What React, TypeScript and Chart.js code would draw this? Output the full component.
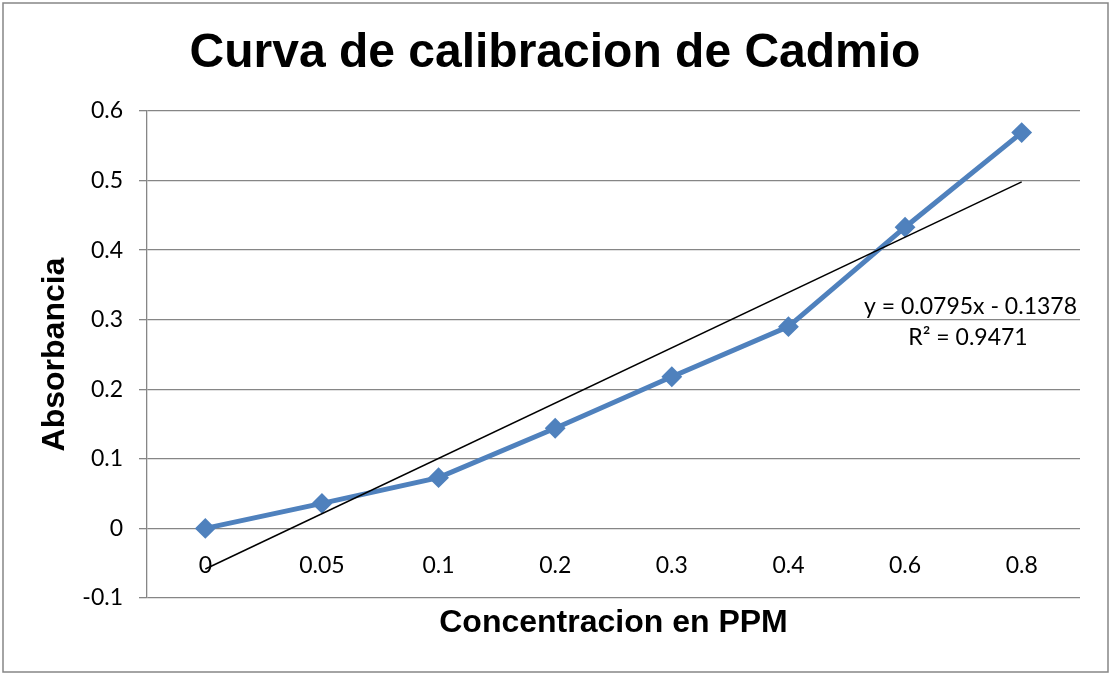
import React, { useEffect, useRef } from "react";
import { Chart, registerables } from "chart.js";

Chart.register(...registerables);

const categories = ["0", "0.05", "0.1", "0.2", "0.3", "0.4", "0.6", "0.8"];
const absorbance = [0, 0.036, 0.073, 0.144, 0.218, 0.290, 0.433, 0.569];
const trendline = [-0.0583, null, null, null, null, null, null, 0.4982];
const yTicks = [-0.1, 0, 0.1, 0.2, 0.3, 0.4, 0.5, 0.6];
const equationText = "y = 0.0795x - 0.1378";
const r2Text = "R² = 0.9471";
const xTitle = "Concentracion en PPM";

const LABEL_FONT = "Lato, 'Open Sans', sans-serif";
const TITLE_FONT = "'Liberation Sans', Arial, sans-serif";

const frameAndText = {
  id: "frameAndText",
  beforeDraw(chart: any) {
    const ctx = chart.ctx;
    ctx.save();
    ctx.fillStyle = "#ffffff";
    ctx.fillRect(0, 0, chart.width, chart.height);
    ctx.strokeStyle = "#868686";
    ctx.lineWidth = 1.5;
    ctx.strokeRect(3, 3, chart.width - 5, chart.height - 4);
    ctx.restore();
  },
  afterDatasetsDraw(chart: any) {
    const ctx = chart.ctx;
    const area = chart.chartArea;
    const y = chart.scales.y;
    ctx.save();
    ctx.fillStyle = "#000000";
    ctx.font = `23px ${LABEL_FONT}`;
    ctx.textBaseline = "middle";
    ctx.textAlign = "right";
    ctx.fillText(equationText, area.right - 3, y.getPixelForValue(0.3) - 13);
    ctx.textAlign = "center";
    ctx.fillText(r2Text, area.right - 112, y.getPixelForValue(0.3) + 18);
    ctx.font = `bold 32px ${TITLE_FONT}`;
    ctx.fillText(xTitle, (area.left + area.right) / 2, area.bottom + 25);
    ctx.restore();
  },
};

export default function App() {
  const ref = useRef<HTMLCanvasElement | null>(null);

  useEffect(() => {
    document.body.style.margin = "0";
    const canvas = ref.current;
    if (!canvas) return;
    const chart = new Chart(canvas, {
      type: "line",
      data: {
        labels: categories,
        datasets: [
          {
            label: "Absorbancia",
            data: absorbance,
            borderColor: "#4F81BD",
            backgroundColor: "#4F81BD",
            borderWidth: 5,
            pointStyle: "rectRot",
            pointRadius: 9,
            pointBorderWidth: 2,
            pointBackgroundColor: "#4F81BD",
            pointBorderColor: "#4F81BD",
            tension: 0,
            order: 2,
            clip: false as any,
          },
          {
            label: "Tendencia",
            data: trendline as any,
            borderColor: "#000000",
            borderWidth: 1.5,
            pointRadius: 0,
            spanGaps: true,
            tension: 0,
            order: 1,
          },
        ],
      },
      options: {
        responsive: false,
        animation: false,
        layout: { padding: { left: 30, right: 30, top: 0, bottom: 75 } },
        plugins: {
          legend: { display: false },
          tooltip: { enabled: false },
          title: {
            display: true,
            text: "Curva de calibracion de Cadmio",
            color: "#000000",
            font: { family: TITLE_FONT, size: 48, weight: "bold", lineHeight: 1.2 },
            padding: { top: 25, bottom: 28.4 },
          },
        },
        scales: {
          x: {
            type: "category",
            position: { y: 0 } as any,
            offset: true,
            grid: { display: false, drawTicks: false },
            border: { display: false },
            ticks: {
              color: "#000000",
              font: { family: LABEL_FONT, size: 23 },
              padding: 23,
              maxRotation: 0,
              autoSkip: false,
            },
          },
          y: {
            type: "linear",
            min: -0.1,
            max: 0.6,
            afterBuildTicks: (scale: any) => {
              scale.ticks = yTicks.map((v) => ({ value: v }));
            },
            afterFit: (scale: any) => {
              scale.width = 117;
            },
            grid: { color: "#868686", lineWidth: 1.3, tickLength: 8, drawTicks: true },
            border: { display: true, color: "#868686", width: 1.3 },
            ticks: {
              color: "#000000",
              font: { family: LABEL_FONT, size: 23 },
              padding: 16,
              callback: (v: any) => String(Math.round(Number(v) * 10) / 10),
            },
            title: {
              display: true,
              text: "Absorbancia",
              color: "#000000",
              font: { family: TITLE_FONT, size: 32, weight: "bold", lineHeight: 1.2 },
              padding: { top: 6, bottom: 0 },
            },
          },
        },
      },
      plugins: [frameAndText],
    });
    return () => chart.destroy();
  }, []);

  return (
    <div style={{ width: 1110, height: 673 }}>
      <canvas ref={ref} width={1110} height={673} style={{ display: "block" }} />
    </div>
  );
}
